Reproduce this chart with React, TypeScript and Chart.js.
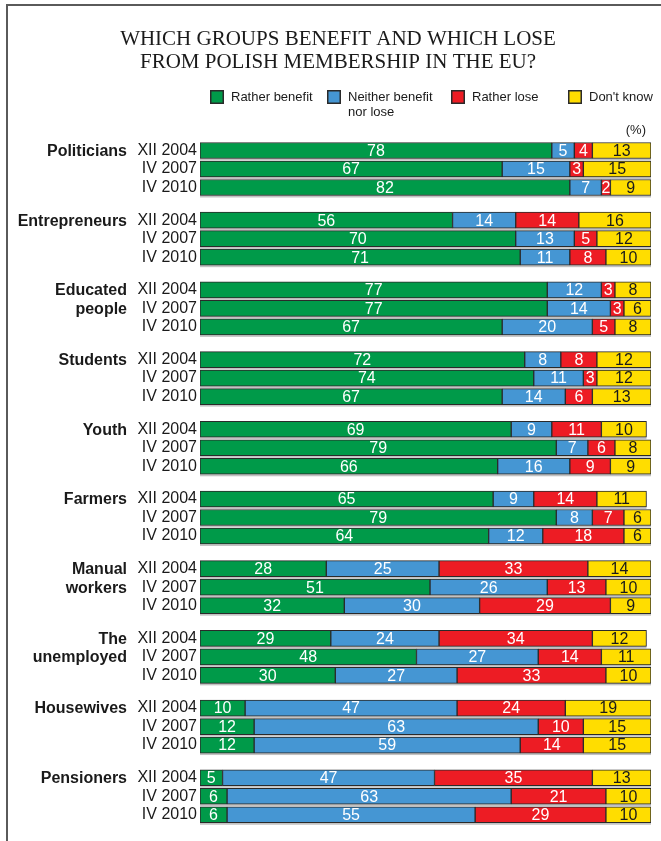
import React, { useEffect, useRef } from 'react';
import { Chart, registerables } from 'chart.js';

Chart.register(...registerables);

const TITLE_LINES = ['WHICH GROUPS BENEFIT AND WHICH LOSE', 'FROM POLISH MEMBERSHIP IN THE EU?'];
const GROUPS: string[][] = [
  ['Politicians'],
  ['Entrepreneurs'],
  ['Educated', 'people'],
  ['Students'],
  ['Youth'],
  ['Farmers'],
  ['Manual', 'workers'],
  ['The', 'unemployed'],
  ['Housewives'],
  ['Pensioners'],
];
const YEARS = ['XII 2004', 'IV 2007', 'IV 2010'];
const SERIES_NAMES = ['Rather benefit', 'Neither benefit nor lose', 'Rather lose', "Don't know"];
const LEGEND_LINES: string[][] = [['Rather benefit'], ['Neither benefit', 'nor lose'], ['Rather lose'], ["Don't know"]];

const BENEFIT = [78, 67, 82, 56, 70, 71, 77, 77, 67, 72, 74, 67, 69, 79, 66, 65, 79, 64, 28, 51, 32, 29, 48, 30, 10, 12, 12, 5, 6, 6];
const NEITHER = [5, 15, 7, 14, 13, 11, 12, 14, 20, 8, 11, 14, 9, 7, 16, 9, 8, 12, 25, 26, 30, 24, 27, 27, 47, 63, 59, 47, 63, 55];
const LOSE = [4, 3, 2, 14, 5, 8, 3, 3, 5, 8, 3, 6, 11, 6, 9, 14, 7, 18, 33, 13, 29, 34, 14, 33, 24, 10, 14, 35, 21, 29];
const DONT_KNOW = [13, 15, 9, 16, 12, 10, 8, 6, 8, 12, 12, 13, 10, 8, 9, 11, 6, 6, 14, 10, 9, 12, 11, 10, 19, 15, 15, 13, 10, 10];

const SERIES = [BENEFIT, NEITHER, LOSE, DONT_KNOW];
const COLORS = ['#009a49', '#4596d3', '#ed1c24', '#ffdd00'];
const LABEL_COLORS = ['#ffffff', '#ffffff', '#ffffff', '#1a1a1a'];

const GROUP_STEP = 3.768; // rows per group incl. gap
const ROW_POS = GROUPS.flatMap((_, g) => YEARS.map((__, r) => g * GROUP_STEP + r));
const Y_MAX = ROW_POS[ROW_POS.length - 1] + 0.5;

const SANS = '"Liberation Sans", Arial, Helvetica, sans-serif';
const SERIF = '"Liberation Serif", "Times New Roman", serif';

const decorPlugin = {
  id: 'decor',
  beforeDatasetsDraw(chart: any) {
    const ctx = chart.ctx;
    const xs = chart.scales.x;
    const ys = chart.scales.y;
    ctx.save();
    ctx.fillStyle = '#c2c2c2';
    ROW_POS.forEach((pos, j) => {
      const total = SERIES.reduce((s, arr) => s + arr[j], 0);
      const x0 = xs.getPixelForValue(0);
      const x1 = xs.getPixelForValue(total);
      const y = ys.getPixelForValue(pos);
      ctx.fillRect(x0, y - 8 + 2, x1 - x0, 16);
    });
    ctx.restore();
  },
  afterDatasetsDraw(chart: any) {
    const ctx = chart.ctx;
    ctx.save();
    ctx.font = `16px ${SANS}`;
    ctx.textAlign = 'center';
    ctx.textBaseline = 'middle';
    chart.data.datasets.forEach((ds: any, i: number) => {
      const meta = chart.getDatasetMeta(i);
      meta.data.forEach((el: any, j: number) => {
        const p = el.getProps(['x', 'base', 'y'], true);
        ctx.fillStyle = LABEL_COLORS[i];
        ctx.fillText(String(ds.data[j].x), (p.x + p.base) / 2, p.y + 1);
      });
    });
    ctx.restore();
  },
  afterDraw(chart: any) {
    const ctx = chart.ctx;
    const ys = chart.scales.y;
    ctx.save();
    // frame
    ctx.strokeStyle = '#5a5a5a';
    ctx.lineWidth = 2;
    ctx.beginPath();
    ctx.moveTo(7, 841);
    ctx.lineTo(7, 5);
    ctx.lineTo(661, 5);
    ctx.stroke();

    // title
    ctx.fillStyle = '#1a1a1a';
    ctx.font = `21px ${SERIF}`;
    ctx.textAlign = 'center';
    ctx.textBaseline = 'middle';
    TITLE_LINES.forEach((t, k) => ctx.fillText(t, 338, 39 + k * 23));

    // legend
    const lx = [210, 327, 451, 568];
    ctx.font = `13px ${SANS}`;
    ctx.textAlign = 'left';
    LEGEND_LINES.forEach((lines, i) => {
      ctx.fillStyle = COLORS[i];
      ctx.fillRect(lx[i], 90, 14, 14);
      ctx.strokeStyle = '#2a2a2a';
      ctx.lineWidth = 1.5;
      ctx.strokeRect(lx[i] + 0.75, 90.75, 12.5, 12.5);
      ctx.fillStyle = '#1a1a1a';
      lines.forEach((ln, k) => ctx.fillText(ln, lx[i] + 21, 97.5 + k * 15));
    });

    // unit
    ctx.textAlign = 'right';
    ctx.fillText('(%)', 646, 130);

    // group labels
    ctx.font = `bold 16px ${SANS}`;
    ctx.fillStyle = '#1a1a1a';
    GROUPS.forEach((lines, g) => {
      lines.forEach((ln, k) => {
        const y = ys.getPixelForValue(g * GROUP_STEP + k);
        ctx.fillText(ln, 127, y + 1);
      });
    });
    ctx.restore();
  },
};

export default function App() {
  const ref = useRef<HTMLCanvasElement>(null);
  useEffect(() => {
    if (!ref.current) return;
    const datasets = SERIES.map((arr, i) => ({
      label: SERIES_NAMES[i],
      data: arr.map((v, j) => ({ x: v, y: ROW_POS[j] })),
      backgroundColor: COLORS[i],
      borderColor: '#2a2a2a',
      borderWidth: 1,
      borderSkipped: false,
      barThickness: 16,
    }));
    const chart = new Chart(ref.current, {
      type: 'bar',
      data: { datasets },
      options: {
        indexAxis: 'y',
        responsive: false,
        animation: false,
        events: [],
        layout: { padding: { left: 0, right: 10, top: 141.25, bottom: 17 } },
        plugins: {
          legend: { display: false },
          title: { display: false },
          tooltip: { enabled: false },
        },
        scales: {
          x: { type: 'linear', min: 0, max: 100, stacked: true, display: false },
          y: {
            type: 'linear',
            reverse: true,
            offset: false,
            min: -0.5,
            max: Y_MAX,
            stacked: true,
            grid: { display: false, drawTicks: false, offset: false },
            border: { display: false },
            afterFit: (s: any) => {
              s.width = 200;
              s.paddingTop = 0;
              s.paddingBottom = 0;
            },
            afterBuildTicks: (s: any) => {
              s.ticks = ROW_POS.map((v) => ({ value: v }));
            },
            ticks: {
              autoSkip: false,
              padding: 3,
              color: '#1a1a1a',
              font: { size: 16, family: SANS },
              callback: (_v: any, i: number) => YEARS[i % 3],
            },
          },
        },
      },
      plugins: [decorPlugin],
    } as any);
    return () => chart.destroy();
  }, []);
  return (
    <div style={{ position: 'absolute', left: 0, top: 0, width: 661, height: 841, background: '#fff' }}>
      <canvas ref={ref} width={661} height={841} style={{ display: 'block' }} />
    </div>
  );
}
